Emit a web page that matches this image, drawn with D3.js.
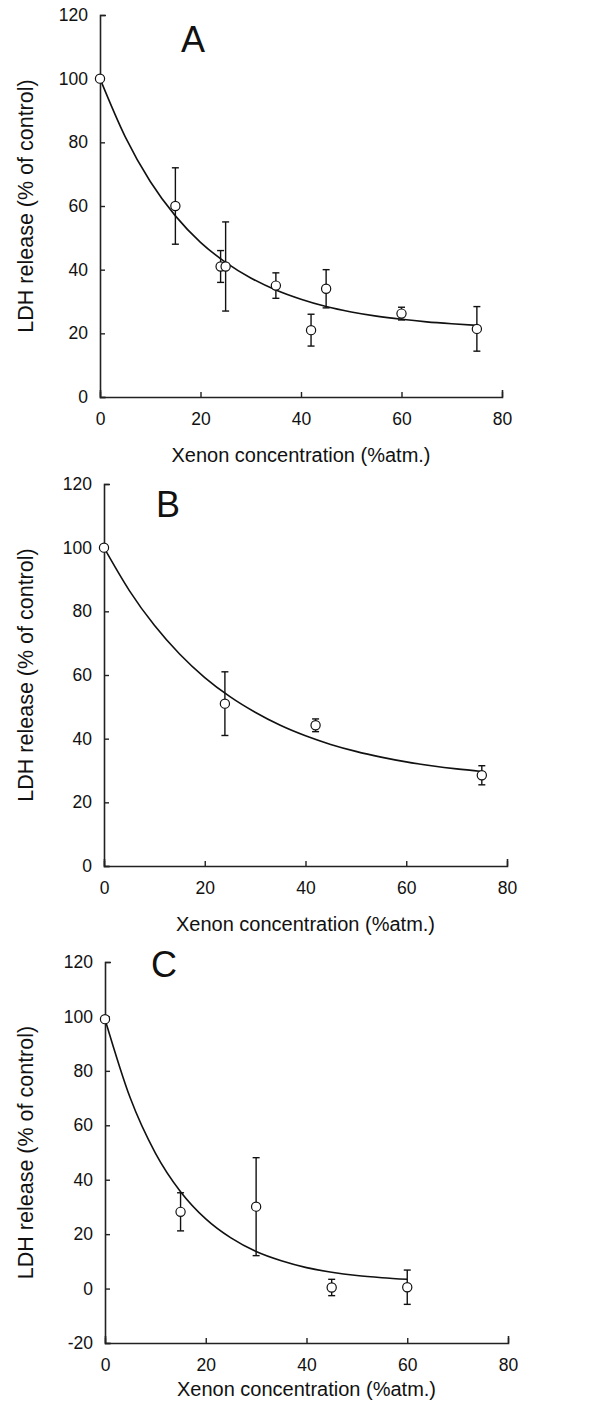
<!DOCTYPE html>
<html>
<head>
<meta charset="utf-8">
<script src="https://cdn.jsdelivr.net/npm/d3@7"></script>
<style>
  body { margin: 0; background: #fff; }
  text { font-family: "Liberation Sans", Arial, Helvetica, sans-serif; fill: #111; }
</style>
</head>
<body>
<script>
// panel A data
const aX = [0, 15, 24, 25, 35, 42, 45, 60, 75];
const aY = [100, 60, 41, 41, 35, 21, 34, 26.2, 21.4];
const aErr = [0, 12, 5, 14, 4, 5, 6, 2, 7];
const aCurveX = [0, 5, 10, 15, 20, 25, 30, 35, 40, 45, 50, 55, 60, 65, 70, 75];
const aCurveY = [100, 81.8, 67.7, 56.9, 48.6, 42.3, 37.4, 33.6, 30.7, 28.4, 26.7, 25.4, 24.4, 23.6, 23.0, 22.5];

// panel B data
const bX = [0, 24, 42, 75];
const bY = [100, 51, 44.2, 28.5];
const bErr = [0, 10, 2, 3];
const bCurveX = [0, 5, 10, 15, 20, 25, 30, 35, 40, 45, 50, 55, 60, 65, 70, 75];
const bCurveY = [100, 86.6, 75.6, 66.6, 59.2, 53.2, 48.3, 44.2, 40.9, 38.2, 36.0, 34.2, 32.7, 31.5, 30.5, 29.7];

// panel C data
const cX = [0, 15, 30, 45, 60];
const cY = [99, 28.2, 30.1, 0.4, 0.5];
const cErr = [0, 7, 18, 3, 6.3];
const cCurveX = [0, 5, 10, 15, 20, 25, 30, 35, 40, 45, 50, 55, 60];
const cCurveY = [99, 70.1, 49.8, 35.6, 25.6, 18.6, 13.6, 10.2, 7.7, 6.0, 4.8, 4.0, 3.4];

const xTicks = [0, 20, 40, 60, 80];
const yTicksAB = [0, 20, 40, 60, 80, 100, 120];
const yTicksC = [-20, 0, 20, 40, 60, 80, 100, 120];

const xTitle = "Xenon concentration (%atm.)";
const yTitle = "LDH release (% of control)";

const svg = d3.select("body")
  .append("svg")
  .attr("width", 593)
  .attr("height", 1410);

const panels = [
  { letter: "A", left: 100, top: 15, w: 402, h: 382, yDomain: [0, 120], yTicks: yTicksAB,
    xs: aX, ys: aY, errs: aErr, cx: aCurveX, cy: aCurveY, letterX: 193, letterY: 52, titleGap: 65 },
  { letter: "B", left: 104, top: 484, w: 403, h: 382, yDomain: [0, 120], yTicks: yTicksAB,
    xs: bX, ys: bY, errs: bErr, cx: bCurveX, cy: bCurveY, letterX: 168, letterY: 517, titleGap: 65 },
  { letter: "C", left: 105, top: 962, w: 403, h: 381, yDomain: [-20, 120], yTicks: yTicksC,
    xs: cX, ys: cY, errs: cErr, cx: cCurveX, cy: cCurveY, letterX: 164, letterY: 977, titleGap: 53 }
];

panels.forEach(function (p) {
  const g = svg.append("g").attr("transform", `translate(${p.left},${p.top})`);
  const x = d3.scaleLinear().domain([0, 80]).range([0, p.w]);
  const y = d3.scaleLinear().domain(p.yDomain).range([p.h, 0]);

  const xAxis = g.append("g")
    .attr("transform", `translate(0,${p.h})`)
    .call(d3.axisBottom(x).tickValues(xTicks).tickFormat(d => String(d))
      .tickSizeInner(-5).tickSizeOuter(-7).tickPadding(16));
  const yAxis = g.append("g")
    .call(d3.axisLeft(y).tickValues(p.yTicks).tickFormat(d => String(d))
      .tickSizeInner(-5).tickSizeOuter(-6).tickPadding(12));

  [xAxis, yAxis].forEach(function (ax) {
    ax.selectAll("path, line").attr("stroke", "#222").attr("stroke-width", 1.4);
    ax.selectAll("text").style("font-size", "17.5px").attr("fill", "#111");
  });
  xAxis.select(".domain").attr("stroke-width", 1.6);
  yAxis.select(".domain").attr("stroke-width", 1.6);

  // fitted curve
  const line = d3.line()
    .x((d, i) => x(p.cx[i]))
    .y(d => y(d))
    .curve(d3.curveMonotoneX);
  g.append("path")
    .datum(p.cy)
    .attr("d", line)
    .attr("fill", "none")
    .attr("stroke", "#111")
    .attr("stroke-width", 1.6);

  // error bars
  const pts = p.xs.map((v, i) => ({ x: v, y: p.ys[i], e: p.errs[i] }));
  const bars = g.selectAll(".err")
    .data(pts.filter(d => d.e > 0))
    .enter()
    .append("g")
    .attr("class", "err")
    .attr("stroke", "#111")
    .attr("stroke-width", 1.4);
  bars.append("line")
    .attr("x1", d => x(d.x)).attr("x2", d => x(d.x))
    .attr("y1", d => y(d.y + d.e)).attr("y2", d => y(d.y - d.e));
  bars.append("line")
    .attr("x1", d => x(d.x) - 3.5).attr("x2", d => x(d.x) + 3.5)
    .attr("y1", d => y(d.y + d.e)).attr("y2", d => y(d.y + d.e));
  bars.append("line")
    .attr("x1", d => x(d.x) - 3.5).attr("x2", d => x(d.x) + 3.5)
    .attr("y1", d => y(d.y - d.e)).attr("y2", d => y(d.y - d.e));

  // open circles
  g.selectAll("circle")
    .data(pts)
    .enter()
    .append("circle")
    .attr("cx", d => x(d.x))
    .attr("cy", d => y(d.y))
    .attr("r", 4.6)
    .attr("fill", "#fff")
    .attr("stroke", "#111")
    .attr("stroke-width", 1.2);

  // axis titles
  g.append("text")
    .attr("x", p.w / 2)
    .attr("y", p.h + p.titleGap)
    .attr("text-anchor", "middle")
    .style("font-size", "20px")
    .text(xTitle);
  g.append("text")
    .attr("transform", `translate(${33 - p.left},${p.h / 2}) rotate(-90)`)
    .attr("text-anchor", "middle")
    .style("font-size", "21.5px")
    .text(yTitle);

  svg.append("text")
    .attr("x", p.letterX)
    .attr("y", p.letterY)
    .attr("text-anchor", "middle")
    .style("font-size", "36px")
    .text(p.letter);
});
</script>
</body>
</html>
